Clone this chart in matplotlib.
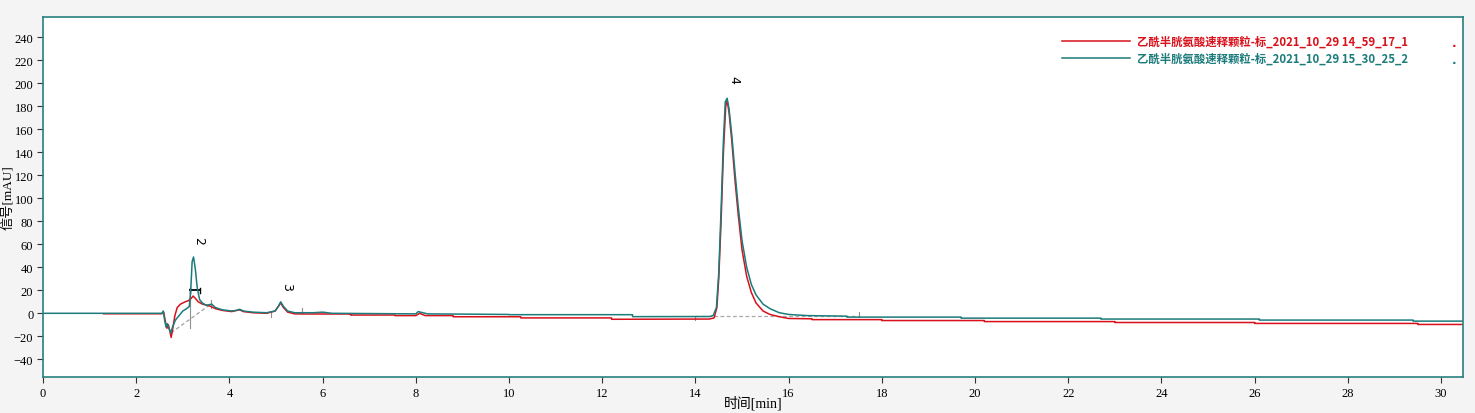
#!/usr/bin/env python3

import matplotlib
import matplotlib.pyplot as plt
from matplotlib.lines import Line2D

matplotlib.use("Agg")

# --- data ---------------------------------------------------------------
NAME_1 = "乙酰半胱氨酸速释颗粒-标_2021_10_29 14_59_17_1"
NAME_2 = "乙酰半胱氨酸速释颗粒-标_2021_10_29 15_30_25_2"

# run 1 (red)
t_red = [1.3, 2.55, 2.59, 2.63, 2.66, 2.69, 2.72, 2.75, 2.79, 2.83, 2.88, 2.95,
         3.05, 3.12, 3.18, 3.22, 3.27, 3.33, 3.42, 3.52, 3.6, 3.7, 3.85, 4.05,
         4.15, 4.22, 4.3, 4.5, 4.8, 4.98, 5.05, 5.1, 5.16, 5.25, 5.4, 5.6,
         6.6, 6.6, 7.55, 7.55, 8.0, 8.08, 8.2, 8.8, 8.8, 10.25, 10.25, 12.2,
         12.2, 14.3, 14.4, 14.46, 14.5, 14.55, 14.6, 14.65, 14.68, 14.72, 14.78,
         14.85, 14.92, 15.0, 15.1, 15.2, 15.3, 15.45, 15.6, 15.8, 16.0, 16.5,
         16.5, 18.0, 18.0, 20.2, 20.2, 23.0, 23.0, 26.0, 26.0, 29.5, 29.5, 30.47]
y_red = [-0.4, -0.4, 1, -8, -13, -10, -15, -21, -12, -2, 5, 8,
         10, 11, 13, 15, 13, 10, 8, 7, 6, 4, 2.5, 1.5,
         2.5, 3, 1.5, 0.5, 0, 2, 6, 9, 5, 1, -0.5, -0.6,
         -0.6, -1.5, -1.5, -2, -2, 0, -2, -2, -3, -3, -4, -4,
         -5.2, -5, -4, 5, 30, 80, 140, 180, 185, 175, 150,
         115, 85, 55, 32, 18, 9, 2, -1, -3, -4.5, -4.8,
         -5.5, -5.5, -6.3, -6.3, -7.2, -7.2, -8, -8, -8.8, -8.8, -9.7, -9.7]

# run 2 (teal)
t_teal = [0.0, 2.55, 2.58, 2.61, 2.64, 2.67, 2.7, 2.74, 2.78, 2.84, 2.92, 3.0,
          3.08, 3.14, 3.17, 3.2, 3.23, 3.27, 3.31, 3.36, 3.42, 3.5, 3.57, 3.62,
          3.7, 3.85, 4.05, 4.15, 4.22, 4.3, 4.5, 4.8, 4.98, 5.05, 5.1, 5.16,
          5.25, 5.4, 5.8, 6.0, 6.2, 8.0, 8.05, 8.15, 8.25, 10.0, 10.0, 12.65,
          12.65, 14.3, 14.38, 14.45, 14.5, 14.55, 14.6, 14.64, 14.68, 14.72,
          14.78, 14.85, 14.92, 15.0, 15.1, 15.2, 15.3, 15.45, 15.6, 15.8, 16.0,
          16.4, 17.25, 17.25, 19.7, 19.7, 22.7, 22.7, 26.1, 26.1, 29.4, 29.4, 30.47]
y_teal = [0, 0, 2, -6, -12, -9, -13, -17, -12, -6, -2, 2,
          4, 6, 20, 45, 49, 38, 22, 12, 9, 7, 7.5, 8,
          5, 3, 2, 2.5, 3.5, 2, 1, 0.5, 2, 6, 10, 6,
          2, 0.5, 0.5, 1, 0, -0.5, 1.5, 0.5, -0.5, -1, -1.2, -1.2,
          -2.9, -2.8, -2, 5, 35, 90, 150, 184, 187, 178,
          155, 122, 92, 63, 40, 25, 16, 8, 4, 0.5, -1,
          -2, -2.5, -3.3, -3.3, -4.2, -4.2, -5, -5, -5.9, -5.9, -6.8, -6.8]

# integration baselines / markers (grey)
base2_t = [2.75, 3.6]
base2_y = [-17, 8]
base4_t = [14.0, 17.5]
base4_y = [-2.7, -2.7]

peak_ids = ["2", "3", "4"]
peak_t = [3.35, 5.22, 14.83]
peak_y = [64, 24, 204]

x_ticks = list(range(0, 31, 2))
y_ticks = list(range(-40, 241, 20))

TEAL = "#1c7b7b"
RED = "#d9111b"
FRAME = "#2a8080"
SERIF = ["Liberation Serif", "Noto Sans CJK SC"]


def main() -> None:
    fig = plt.figure(figsize=(14.75, 4.14), dpi=100, facecolor="#f4f4f4")
    ax = fig.add_axes([43 / 1475, 36 / 414, 1420 / 1475, 360 / 414])
    ax.set_facecolor("white")

    # integration helpers
    ax.plot(base2_t, base2_y, color="#a0a0a0", lw=0.9, ls=(0, (3, 2)))
    ax.plot(base4_t, base4_y, color="#a8a8a8", lw=0.9, ls=(0, (3, 2)))
    ax.plot([3.15, 3.15], [-13, 20], color="#909090", lw=0.8)
    ax.plot([3.6, 3.6], [5, 12], color="#909090", lw=0.8)
    ax.plot([4.9, 4.9], [-3, 1], color="#909090", lw=0.8)
    ax.plot([5.55, 5.55], [0, 5], color="#909090", lw=0.8)
    ax.plot([14.0, 14.0], [-5.5, -2], color="#909090", lw=0.8)
    ax.plot([17.5, 17.5], [-3, 1], color="#909090", lw=0.8)
    ax.plot([3.15, 3.37], [20, 20], color="black", lw=1.3)
    ax.plot([3.15, 3.15], [18, 22], color="black", lw=1.0)
    ax.plot([3.37, 3.37], [18, 22], color="black", lw=1.0)

    ax.plot(t_red, y_red, color=RED, lw=1.1)
    ax.plot(t_teal, y_teal, color=TEAL, lw=1.1)

    for lab, t, y in zip(peak_ids, peak_t, peak_y):
        ax.text(t, y, lab, rotation=-90, fontsize=9, family="DejaVu Sans",
                ha="center", va="center")

    ax.set_xlim(0, 30.47)
    ax.set_ylim(-55.4, 257.7)
    ax.set_xticks(x_ticks)
    ax.set_yticks(y_ticks)
    for s in ax.spines.values():
        s.set_color(FRAME)
        s.set_linewidth(1.2)
    ax.tick_params(direction="out", length=4, width=0.8, colors="#333333",
                   labelsize=9, pad=3)
    for lbl in ax.get_xticklabels() + ax.get_yticklabels():
        lbl.set_family(SERIF)
        lbl.set_color("black")

    ax.set_xlabel("时间[min]", family=SERIF, fontsize=10, va="center")
    ax.xaxis.set_label_coords(0.5, -25 / 360)
    ax.set_ylabel("信号[mAU]", family=SERIF, fontsize=9.5, va="center")
    ax.yaxis.set_label_coords(-35 / 1420, 0.5)

    handles = [Line2D([], [], color=RED, lw=1.1), Line2D([], [], color=TEAL, lw=1.1)]
    leg = fig.legend(handles, [NAME_1, NAME_2], loc="upper left",
                     bbox_to_anchor=(1062 / 1475, 1 - 36 / 414),
                     frameon=False, handlelength=6.0, handletextpad=0.6,
                     labelspacing=0.35, borderpad=0, borderaxespad=0,
                     prop={"family": ["Noto Sans CJK SC", "DejaVu Sans"],
                           "weight": "bold", "size": 8.2})
    for txt, c in zip(leg.get_texts(), [RED, TEAL]):
        txt.set_color(c)
    fig.text(1452 / 1475, 1 - 47 / 414, ".", color=RED, fontsize=8.5, weight="bold")
    fig.text(1452 / 1475, 1 - 64 / 414, ".", color=TEAL, fontsize=8.5, weight="bold")

    fig.savefig("out.png", dpi=100, facecolor=fig.get_facecolor())


if __name__ == "__main__":
    main()
